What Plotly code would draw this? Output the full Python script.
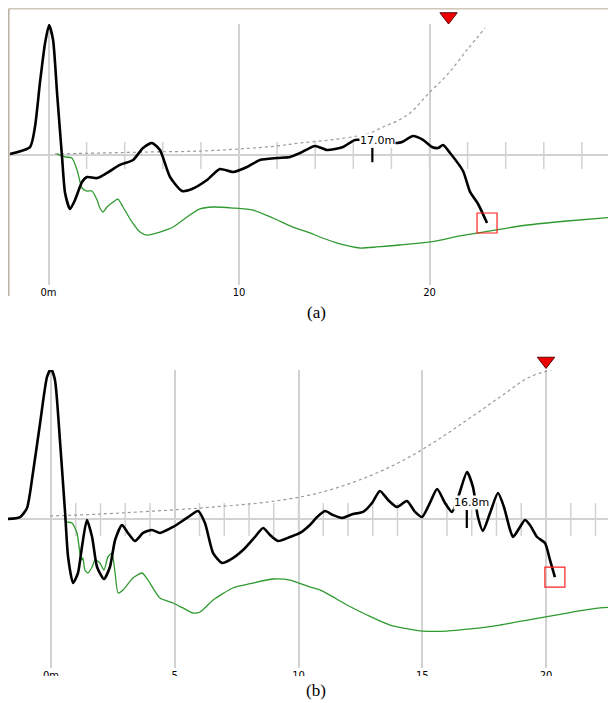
import plotly.graph_objects as go

# ---------------- Panel (a) data ----------------
a_black_x = [-2.02, -0.97, -0.71, -0.45, -0.18, 0.03, 0.24, 0.45, 0.71, 0.87, 1.13, 1.39, 1.76, 2.02,
             2.55, 3.07, 3.75, 4.44, 4.96, 5.43, 5.85, 6.38, 7.01, 7.53, 8.32, 9.0, 9.69, 10.42, 11.1,
             12.0, 12.68, 13.2, 13.99, 14.62, 15.46, 16.09, 16.98, 17.8, 18.29, 18.56, 19.13, 19.66,
             20.13, 20.45, 20.71, 21.08, 21.76, 22.13, 22.55, 23.02]
a_black_y = [0.8, 6.1, 21.4, 55, 85.5, 99.2, 87.8, 47.3, -1.5, -29, -41.2, -34.4, -20.6, -16.8,
             -17.6, -13.7, -7.6, -3.8, 5.3, 9.2, 3.8, -16.8, -27.5, -26, -19.1, -10.7, -13, -9.2, -3.8,
             -2.3, -1.5, 1.5, 6.9, 3.8, 6.1, 11.5, 10.7, 9.5, 9.2, 9.9, 14.5, 11.5,
             6.1, 5.3, 7.6, 1.5, -12.2, -28.2, -37.4, -51.9]

a_green_x = [0.45, 0.87, 1.23, 1.50, 1.76, 2.02, 2.28, 2.55, 2.70, 2.86, 3.07, 3.39, 3.65, 3.91, 4.38,
             4.80, 5.17, 5.85, 6.54, 7.27, 7.95, 8.64, 9.69, 10.73, 11.78, 12.83, 13.73, 14.25, 15.30,
             16.35, 17.24, 18.45, 20.03, 21.60, 23.18, 24.75, 27.22, 29.79]
a_green_y = [0.8, -1.5, -2.3, -11.5, -25.2, -27.5, -27.5, -34.4, -40.5, -43.5, -39.7, -35.9, -33.6,
             -39.7, -51.1, -58.8, -61.1, -58.8, -55, -47.3, -41.2, -39.7, -40.5, -42, -48.1, -55,
             -59.5, -62.6, -67.9, -71, -70.2, -68.7, -66.4, -61.8, -58, -54.2, -50.4, -47.3]

a_thresh_x = [0.34, 2.7, 5.3, 7.95, 10.0, 12.0, 13.2, 14.8, 16.2, 17.0, 17.56, 18.3, 18.98, 19.97, 20.92, 21.97, 22.92]
a_thresh_y = [0.8, 1.5, 2.3, 3.0, 4.6, 6.9, 9.2, 11.5, 14.5, 17.5, 21.4, 26.0, 32.1, 47.3, 61.1, 80.2, 97.0]

a_cursor_x = [21.0]
a_end_x = [23.02]
a_end_y = [-51.9]
a_mark_x = 17.0
a_mark_label = "17.0m"
a_ticks = list(range(2, 30, 2))
a_grid_vals = [0, 10, 20]
a_grid_text = ["0m", "10", "20"]

# ---------------- Panel (b) data ----------------
b_black_x = [-1.78, -1.25, -0.97, -0.73, -0.44, -0.16, 0.0, 0.16, 0.36, 0.57, 0.69, 0.89, 1.09, 1.25,
             1.45, 1.66, 1.86, 2.14, 2.38, 2.59, 2.87, 3.11, 3.39, 3.72, 4.08, 4.40, 4.93, 5.49, 5.94,
             6.22, 6.55, 6.91, 7.23, 7.76, 8.24, 8.57, 8.85, 9.17, 9.66, 10.06, 10.46, 10.75, 11.07,
             11.39, 11.76, 12.20, 12.61, 12.97, 13.29, 13.62, 13.98, 14.38, 14.71, 14.99, 15.31,
             15.60, 15.92, 16.20, 16.48, 16.81, 17.05, 17.25, 17.45, 17.74, 18.06, 18.30, 18.55,
             18.67, 18.95, 19.15, 19.35, 19.64, 19.96, 20.16, 20.36]
b_black_y = [0, 1.3, 7.3, 30.7, 64, 94.7, 100, 92.7, 52.7, 4, -25.3, -42.7, -36, -18.7,
             -0.7, -12, -32, -40, -32, -14, -4, -9.3, -14.7, -9.3, -7.3, -9.3, -5.3, 0.7, 5.3,
             -2.7, -22.7, -29.3, -27.3, -20.7, -12, -6, -10.7, -14.7, -12, -9.3, -4, 1.3, 5.3,
             2.7, 0.7, 3.3, 4.7, 10.7, 18.7, 12.7, 8, 12, 4.7, 1.3, 10.7,
             20, 10.7, 4.7, 16, 31.3, 21.3, 1.3, -8, 4, 17.3, 8, -7.3,
             -12, -5.3, -0.7, -4, -12, -16, -27.3, -38.7]

b_green_x = [0.65, 0.85, 1.05, 1.17, 1.25, 1.29, 1.37, 1.49, 1.66, 1.78, 1.98, 2.14, 2.30, 2.46, 2.59,
             2.71, 2.91, 3.31, 3.68, 3.92, 4.40, 4.93, 5.33, 5.74, 6.02, 6.55, 7.35, 8.16, 8.97, 9.66,
             10.46, 10.87, 11.96, 12.77, 13.70, 15.03, 16.0, 16.93, 18.14, 19.47, 20.85, 22.18, 22.83]
b_green_y = [-2, -2.7, -9.3, -22.7, -27.3, -26, -34, -36, -32, -27.3, -29.3, -34, -25.3, -22.7, -36,
             -49.3, -47.3, -39.3, -36, -40.7, -52.7, -56, -59.3, -62.7, -62, -54, -46, -42.7, -40,
             -40.7, -45.3, -47.3, -57.3, -64, -70.7, -74.7, -74.7, -73.3, -70.7, -66.7, -62.7,
             -59.3, -58.7]

b_thresh_x = [-0.04, 1.98, 6.02, 8.73, 10.26, 11.39, 12.77, 14.10, 15.43, 16.81, 18.14, 19.35, 20.36]
b_thresh_y = [2, 3.3, 7.3, 11.3, 15.3, 20, 28, 38, 50.7, 66, 81.3, 94.7, 100]

b_cursor_x = [20.0]
b_end_x = [20.36]
b_end_y = [-38.7]
b_mark_x = 16.8
b_mark_label = "16.8m"
b_ticks = list(range(1, 23))
b_grid_vals = [0, 5, 10, 15, 20]
b_grid_text = ["0m", "5", "10", "15", "20"]

GRID = "#d2d2d2"
BLACK = "#000000"
GREEN = "#2f9a2f"
DASH = "#9a9a9a"

# page offset of the plot inside the browser page (default body margin)
OFF = 8
W = 616 - OFF
H = 703 - OFF


def px_x(p):
    return (p - OFF) / W


def px_y(p):
    return 1 - (p - OFF) / H


A_RANGE = [(OFF - 48.5) / 19.05, (616 - 48.5) / 19.05]
B_RANGE = [(OFF - 51) / 24.75, (616 - 51) / 24.75]

fig = go.Figure()


def tick_segments(ticks, half_up, half_dn):
    xs, ys = [], []
    for t in ticks:
        xs += [t, t, None]
        ys += [half_up, -half_dn, None]
    return xs, ys


def add_panel(xa, ya, xs, ys, ticks, tick_up, tick_dn, thx, thy, gx, gy, bx, by,
              mark_x, mark_label, mark_half, label_dx, cursor_x, end_x, end_y):
    tx, ty = tick_segments(ticks, tick_up, tick_dn)
    fig.add_trace(go.Scatter(x=tx, y=ty, mode="lines", line=dict(color=GRID, width=1.5),
                             xaxis=xa, yaxis=ya, hoverinfo="skip", showlegend=False))
    fig.add_trace(go.Scatter(x=thx, y=thy, mode="lines", line=dict(color=DASH, width=1.2, dash="3px,3px", shape="spline"),
                             xaxis=xa, yaxis=ya, showlegend=False))
    fig.add_trace(go.Scatter(x=gx, y=gy, mode="lines", line=dict(color=GREEN, width=1.3, shape="spline", smoothing=0.6),
                             xaxis=xa, yaxis=ya, showlegend=False))
    fig.add_trace(go.Scatter(x=bx, y=by, mode="lines", line=dict(color=BLACK, width=2.6, shape="spline", smoothing=0.6),
                             xaxis=xa, yaxis=ya, showlegend=False))
    fig.add_trace(go.Scatter(x=[mark_x, mark_x], y=[mark_half, -mark_half], mode="lines",
                             line=dict(color=BLACK, width=2.2), xaxis=xa, yaxis=ya, showlegend=False))
    fig.add_trace(go.Scatter(x=end_x, y=end_y, mode="markers",
                             marker=dict(symbol="square-open", size=20, color="#ff2020", line=dict(width=1.2)),
                             xaxis=xa, yaxis=ya, showlegend=False))
    # cursor triangle in the thin strip above the panel
    fig.add_trace(go.Scatter(x=cursor_x, y=[0.5] * len(cursor_x), mode="markers", cliponaxis=False,
                             marker=dict(symbol="triangle-down", size=15, color="#ee0000",
                                         line=dict(color="#600000", width=1)),
                             xaxis=xs, yaxis=ys, showlegend=False))
    fig.add_annotation(x=mark_x + label_dx, y=10.7, xref=xa, yref=ya, text=mark_label, showarrow=False,
                       font=dict(family="DejaVu Sans", size=11, color="#000"), bgcolor="white", borderpad=0)


add_panel("x", "y", "x3", "y3", a_ticks, 10, 10.7, a_thresh_x, a_thresh_y, a_green_x, a_green_y,
          a_black_x, a_black_y, a_mark_x, a_mark_label, 5.5, 0.25, a_cursor_x, a_end_x, a_end_y)
add_panel("x2", "y2", "x4", "y4", b_ticks, 10.7, 11.3, b_thresh_x, b_thresh_y, b_green_x, b_green_y,
          b_black_x, b_black_y, b_mark_x, b_mark_label, 6, 0.17, b_cursor_x, b_end_x, b_end_y)

axis_font = dict(family="DejaVu Sans", size=10, color="#000")
hidden = dict(showgrid=False, zeroline=False, showline=False, showticklabels=False, ticks="", fixedrange=True)
fig.update_layout(
    width=W, height=H, margin=dict(l=0, r=0, t=0, b=0),
    paper_bgcolor="white", plot_bgcolor="rgba(0,0,0,0)", showlegend=False,
    xaxis=dict(domain=[0, 1], range=A_RANGE, tickvals=a_grid_vals, ticktext=a_grid_text,
               showgrid=True, gridcolor=GRID, gridwidth=1.5, zeroline=False, showline=False,
               ticks="", tickfont=axis_font, anchor="y", fixedrange=True),
    yaxis=dict(domain=[px_y(285), px_y(24)], range=[-99.24, 100], showticklabels=False, showgrid=False,
               zeroline=True, zerolinecolor=GRID, zerolinewidth=1.5, anchor="x", fixedrange=True),
    xaxis2=dict(domain=[0, 1], range=B_RANGE, tickvals=b_grid_vals, ticktext=b_grid_text,
                showgrid=True, gridcolor=GRID, gridwidth=1.5, zeroline=False, showline=False,
                ticks="", tickfont=axis_font, anchor="y2", fixedrange=True),
    yaxis2=dict(domain=[px_y(668), px_y(370)], range=[-99.33, 99.33], showticklabels=False, showgrid=False,
                zeroline=True, zerolinecolor=GRID, zerolinewidth=1.5, anchor="x2", fixedrange=True),
    xaxis3=dict(domain=[0, 1], range=A_RANGE, anchor="y3", **hidden),
    yaxis3=dict(domain=[px_y(23), px_y(10)], range=[0, 1], anchor="x3", **hidden),
    xaxis4=dict(domain=[0, 1], range=B_RANGE, anchor="y4", **hidden),
    yaxis4=dict(domain=[px_y(368), px_y(354)], range=[0, 1], anchor="x4", **hidden),
)

# frame of panel (a)
fx = 0.8 / W
fy = 1 - 0.8 / H
fig.add_shape(type="line", xref="paper", yref="paper", x0=fx, x1=1, y0=fy, y1=fy,
              line=dict(color="#cfc8b8", width=1.5))
fig.add_shape(type="line", xref="paper", yref="paper", x0=fx, x1=fx, y0=fy, y1=px_y(296),
              line=dict(color="#b8b0a0", width=1.5))
# white band clipping the lower tick labels of (b)
fig.add_shape(type="rect", xref="paper", yref="paper", x0=0, x1=1, y0=0, y1=px_y(676),
              line=dict(width=0), fillcolor="white", layer="above")

cap_font = dict(family="Liberation Serif", size=17, color="#000")
fig.add_annotation(x=px_x(316), y=px_y(313), xref="paper", yref="paper", text="(a)", showarrow=False,
                   font=cap_font, xanchor="center", yanchor="middle")
fig.add_annotation(x=px_x(316), y=px_y(690), xref="paper", yref="paper", text="(b)", showarrow=False,
                   font=cap_font, xanchor="center", yanchor="middle")

fig.write_html("out.html")
